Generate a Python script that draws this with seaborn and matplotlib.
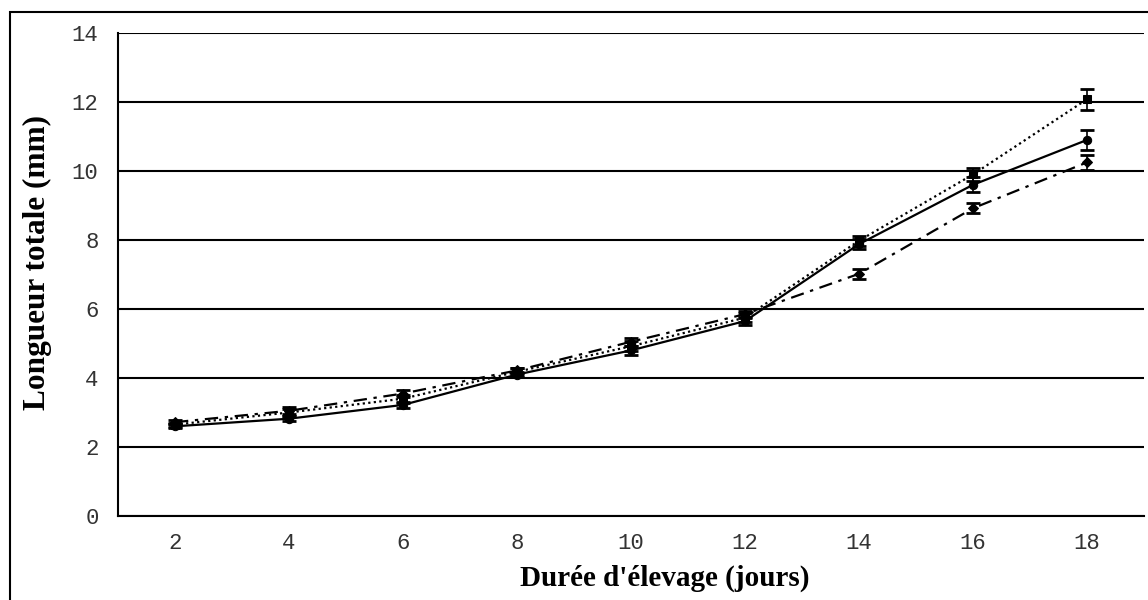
import matplotlib
matplotlib.use("Agg")
import matplotlib.pyplot as plt
import seaborn as sns
import pandas as pd
from matplotlib.patches import Rectangle

days = [2, 4, 6, 8, 10, 12, 14, 16, 18]
serie_cercles = [2.60, 2.82, 3.22, 4.10, 4.80, 5.65, 7.88, 9.60, 10.90]
err_cercles = [0.06, 0.08, 0.08, 0.08, 0.12, 0.12, 0.15, 0.22, 0.30]
serie_carres = [2.65, 3.00, 3.40, 4.18, 4.92, 5.75, 7.98, 9.90, 12.08]
err_carres = [0.06, 0.10, 0.12, 0.10, 0.15, 0.12, 0.15, 0.18, 0.30]
serie_losanges = [2.72, 3.05, 3.55, 4.22, 5.05, 5.85, 7.02, 8.92, 10.25]
err_losanges = [0.05, 0.10, 0.10, 0.08, 0.12, 0.10, 0.15, 0.15, 0.22]
yticks = [0, 2, 4, 6, 8, 10, 12, 14]

sns.set_theme(style="white")
plt.rcParams['font.family'] = ['Liberation Serif', 'DejaVu Serif']

fig = plt.figure(figsize=(11.48, 6.0), dpi=100)
ax = fig.add_axes([118/1148, 1-516/600, (1144-118)/1148, (516-33)/600])

series = [
    ("cercles", serie_cercles, err_cercles, "o", (0, ()), 6),
    ("carres", serie_carres, err_carres, "s", (0, (1, 1.5)), 6),
    ("losanges", serie_losanges, err_losanges, "D", (0, (6, 3, 1.5, 3)), 5),
]
for name, vals, errs, mk, ls, ms in series:
    df = pd.DataFrame({"jours": days, "longueur": vals})
    sns.lineplot(data=df, x="jours", y="longueur", ax=ax, color="black",
                 marker=mk, markersize=ms, linewidth=1.6, linestyle=ls,
                 markeredgecolor="black", zorder=3)
    ax.errorbar(days, vals, yerr=errs, fmt="none", ecolor="black",
                elinewidth=1.2, capsize=5, capthick=2, zorder=3)

ax.set_xlim(1, 19)
ax.set_ylim(0, 14)
ax.set_yticks(yticks)
ax.set_xticks(days)
ax.set_xticks(list(range(1, 20, 2)), minor=True)
ax.tick_params(axis="x", which="major", length=0, pad=12)
ax.tick_params(axis="x", which="minor", length=10, width=1.2, direction="inout", color="black")
ax.tick_params(axis="y", which="major", length=9, width=1.2, direction="out", color="black", pad=5)
for lab in ax.get_xticklabels() + ax.get_yticklabels():
    lab.set_family(['Liberation Mono', 'DejaVu Sans Mono'])
    lab.set_fontsize(16)
    lab.set_fontweight("light")
    lab.set_color("#333333")

ax.grid(axis="y", color="black", linewidth=1.5)
ax.grid(axis="x", visible=False)
for s in ["top", "right"]:
    ax.spines[s].set_visible(False)
ax.spines["left"].set_color("black")
ax.spines["left"].set_linewidth(1.5)
ax.spines["bottom"].set_color("black")
ax.spines["bottom"].set_linewidth(1.5)

ax.set_xlabel("Durée d'élevage (jours)", fontsize=21, fontweight="bold", color="black")
ax.set_ylabel("Longueur totale (mm)", fontsize=22.5, fontweight="bold", color="black")
ax.xaxis.set_label_coords((665-118)/1026, -(578-516)/483)
ax.yaxis.set_label_coords(-(118-37)/1026, (516-263)/483)
ax.xaxis.label.set_verticalalignment("center")
ax.yaxis.label.set_verticalalignment("center")

fig.patches.append(Rectangle((10/1148, -0.1), 1.2, 1-12/600+0.1, transform=fig.transFigure,
                             fill=False, edgecolor="black", linewidth=1.5))

fig.savefig("out.png", dpi=100)
